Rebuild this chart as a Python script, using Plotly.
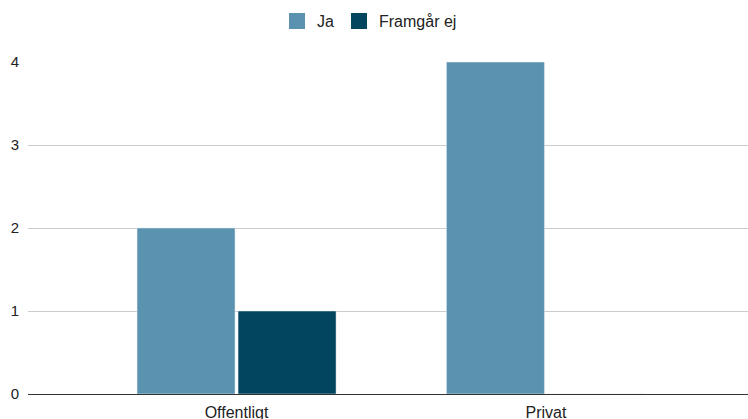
import plotly.graph_objects as go

categories = ["Offentligt", "Privat"]
ja_values = [2, 4]
framgar_values = [1, 0]
y_ticks = [0, 1, 2, 3, 4]
series_names = ["Ja", "Framgår ej"]
series_colors = ["#5b92b0", "#01455f"]

fig = go.Figure()
for name, vals, col in zip(series_names, [ja_values, framgar_values], series_colors):
    fig.add_trace(go.Bar(name=name, x=categories, y=vals, marker_color=col,
                         showlegend=False, legendgroup=name))
for name, col in zip(series_names, series_colors):
    fig.add_trace(go.Scatter(name=name, x=[categories[0]], y=[None], mode="markers",
                             marker=dict(symbol="square", size=16, color=col),
                             showlegend=True, legendgroup=name))

fig.update_layout(
    width=748, height=419,
    margin=dict(l=28, r=0, t=62, b=25, autoexpand=False),
    paper_bgcolor="white", plot_bgcolor="white",
    barmode="group", bargap=0.347, bargroupgap=0.03,
    font=dict(family="Liberation Sans, Arial, sans-serif", size=14, color="#222222"),
    legend=dict(orientation="h", xref="container", x=0.494, xanchor="center",
                yref="container", y=0.99, yanchor="top",
                font=dict(size=16, color="#222222"), itemwidth=30),
    xaxis=dict(range=[-0.674, 1.653], showgrid=False, showline=True, automargin=False,
               linecolor="#333333", linewidth=1, ticks="", tickfont=dict(size=16),
               ticklabelstandoff=4),
    yaxis=dict(range=[0, 4], tickvals=y_ticks, showgrid=True, gridcolor="#cccccc",
               zeroline=False, showline=False, ticks="", ticklabelstandoff=8,
               automargin=False, tickfont=dict(size=15)),
)

fig.write_html("out.html")
